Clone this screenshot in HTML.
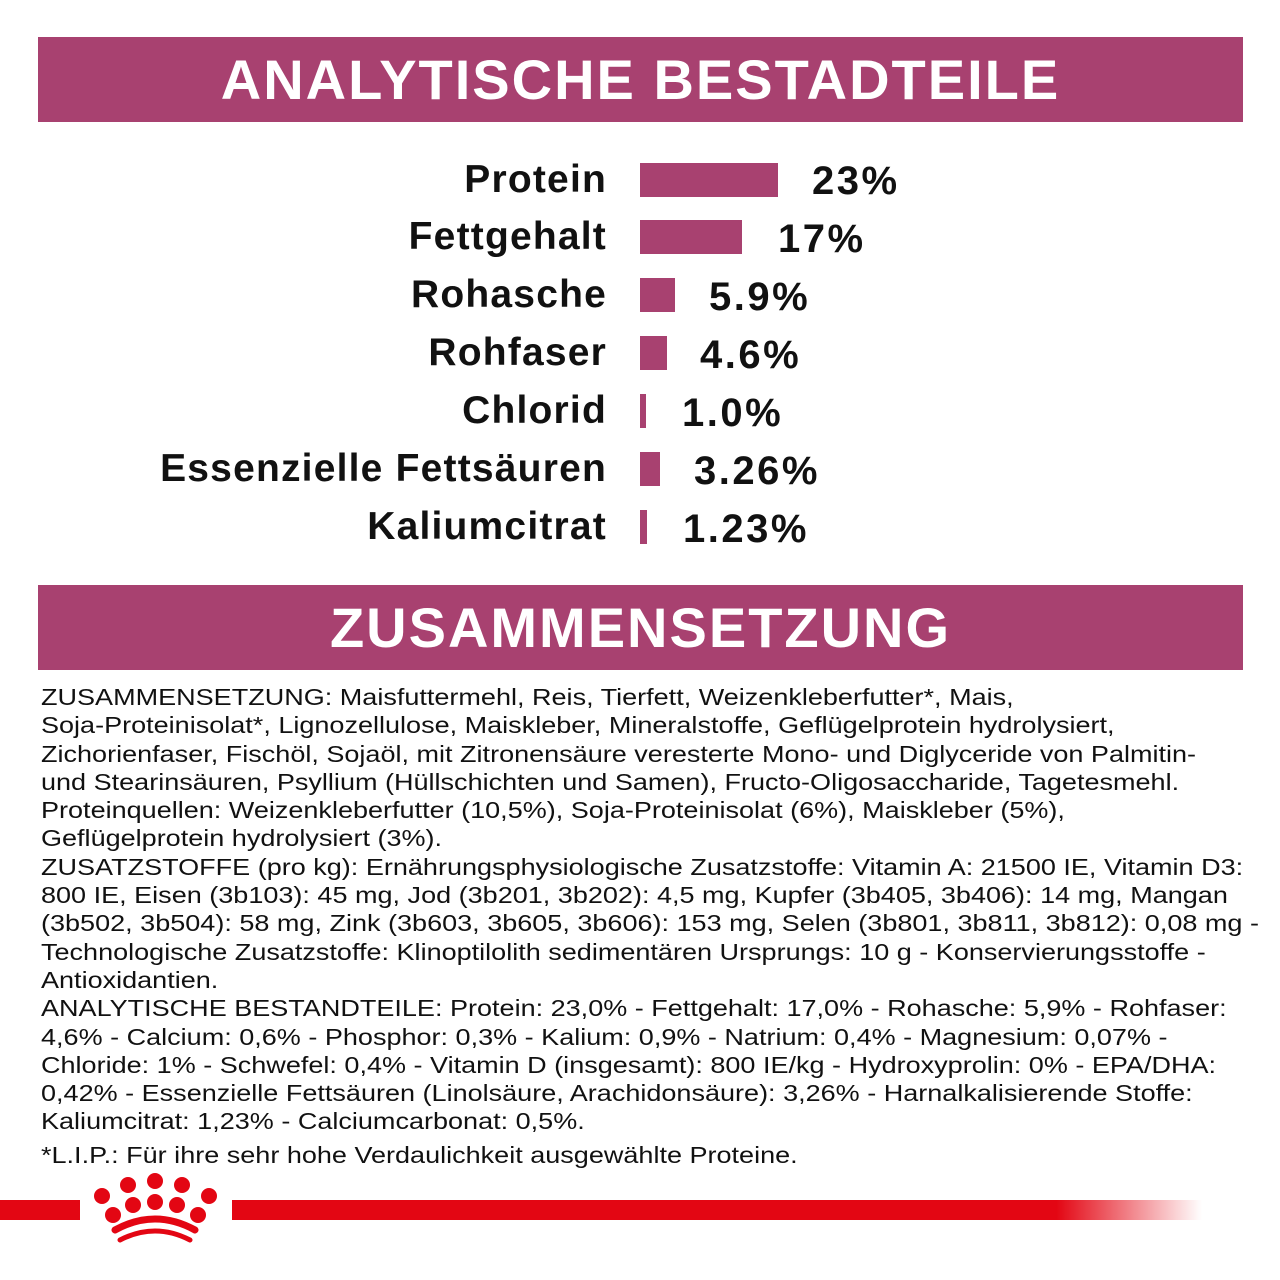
<!DOCTYPE html>
<html><head><meta charset="utf-8"><style>
body{margin:0;width:1280px;height:1280px;background:#fff;position:relative;overflow:hidden;font-family:"Liberation Sans",sans-serif;}
.band{position:absolute;left:38px;width:1205px;height:85px;background:#a84170;color:#fff;font-weight:bold;font-size:56px;text-align:center;line-height:85px;letter-spacing:2px;}
.lab{position:absolute;right:673px;font-weight:bold;font-size:39px;color:#111;line-height:40px;white-space:nowrap;letter-spacing:1.2px;}
.bar{position:absolute;left:640px;height:34px;background:#a84170;}
.val{position:absolute;font-weight:bold;font-size:40px;color:#111;line-height:40px;letter-spacing:2.5px;}
.txt{position:absolute;left:41px;top:683px;font-size:23px;line-height:28.3px;color:#111;white-space:nowrap;transform:scaleX(1.175);transform-origin:0 0;}
</style></head><body>
<div class="band" style="top:37px">ANALYTISCHE BESTADTEILE</div>
<div class="band" style="top:585px">ZUSAMMENSETZUNG</div>

<div class="lab" style="top:160px">Protein</div><div class="bar" style="top:163px;width:138px"></div><div class="val" style="left:812px;top:161px">23%</div>
<div class="lab" style="top:217px">Fettgehalt</div><div class="bar" style="top:220px;width:102px"></div><div class="val" style="left:778px;top:219px">17%</div>
<div class="lab" style="top:275px">Rohasche</div><div class="bar" style="top:278px;width:35px"></div><div class="val" style="left:709px;top:277px">5.9%</div>
<div class="lab" style="top:333px">Rohfaser</div><div class="bar" style="top:336px;width:27px"></div><div class="val" style="left:700px;top:335px">4.6%</div>
<div class="lab" style="top:391px">Chlorid</div><div class="bar" style="top:394px;width:6px"></div><div class="val" style="left:682px;top:393px">1.0%</div>
<div class="lab" style="top:449px">Essenzielle Fettsäuren</div><div class="bar" style="top:452px;width:20px"></div><div class="val" style="left:694px;top:451px">3.26%</div>
<div class="lab" style="top:507px">Kaliumcitrat</div><div class="bar" style="top:510px;width:7px"></div><div class="val" style="left:683px;top:509px">1.23%</div>

<div class="txt">ZUSAMMENSETZUNG: Maisfuttermehl, Reis, Tierfett, Weizenkleberfutter*, Mais,<br>
Soja-Proteinisolat*, Lignozellulose, Maiskleber, Mineralstoffe, Geflügelprotein hydrolysiert,<br>
Zichorienfaser, Fischöl, Sojaöl, mit Zitronensäure veresterte Mono- und Diglyceride von Palmitin-<br>
und Stearinsäuren, Psyllium (Hüllschichten und Samen), Fructo-Oligosaccharide, Tagetesmehl.<br>
Proteinquellen: Weizenkleberfutter (10,5%), Soja-Proteinisolat (6%), Maiskleber (5%),<br>
Geflügelprotein hydrolysiert (3%).<br>
ZUSATZSTOFFE (pro kg): Ernährungsphysiologische Zusatzstoffe: Vitamin A: 21500 IE, Vitamin D3:<br>
800 IE, Eisen (3b103): 45 mg, Jod (3b201, 3b202): 4,5 mg, Kupfer (3b405, 3b406): 14 mg, Mangan<br>
(3b502, 3b504): 58 mg, Zink (3b603, 3b605, 3b606): 153 mg, Selen (3b801, 3b811, 3b812): 0,08 mg -<br>
Technologische Zusatzstoffe: Klinoptilolith sedimentären Ursprungs: 10 g - Konservierungsstoffe -<br>
Antioxidantien.<br>
ANALYTISCHE BESTANDTEILE: Protein: 23,0% - Fettgehalt: 17,0% - Rohasche: 5,9% - Rohfaser:<br>
4,6% - Calcium: 0,6% - Phosphor: 0,3% - Kalium: 0,9% - Natrium: 0,4% - Magnesium: 0,07% -<br>
Chloride: 1% - Schwefel: 0,4% - Vitamin D (insgesamt): 800 IE/kg - Hydroxyprolin: 0% - EPA/DHA:<br>
0,42% - Essenzielle Fettsäuren (Linolsäure, Arachidonsäure): 3,26% - Harnalkalisierende Stoffe:<br>
Kaliumcitrat: 1,23% - Calciumcarbonat: 0,5%.<br>
<div style="margin-top:5px">*L.I.P.: Für ihre sehr hohe Verdaulichkeit ausgewählte Proteine.</div></div>

<div style="position:absolute;left:0;top:1200px;width:80px;height:20px;background:#e30613"></div>
<div style="position:absolute;left:232px;top:1200px;width:970px;height:20px;background:linear-gradient(to right,#e30613 0%,#e30613 85%,rgba(227,6,19,0) 100%)"></div>
<svg style="position:absolute;left:85px;top:1170px" width="140" height="80" viewBox="0 0 140 80">
<g fill="#e30613">
<circle cx="17" cy="26" r="8"/><circle cx="43" cy="15" r="8"/><circle cx="70" cy="11" r="8"/><circle cx="97" cy="15" r="8"/><circle cx="124" cy="26" r="8"/>
<circle cx="28" cy="45" r="8"/><circle cx="48" cy="35" r="8"/><circle cx="70" cy="32" r="8"/><circle cx="92" cy="35" r="8"/><circle cx="113" cy="45" r="8"/>
</g>
<path d="M30 60 Q70 38 110 60" stroke="#e30613" stroke-width="7" fill="none" stroke-linecap="round"/>
<path d="M35 70 Q70 52 105 70" stroke="#e30613" stroke-width="5" fill="none" stroke-linecap="round"/>
</svg>
</body></html>
